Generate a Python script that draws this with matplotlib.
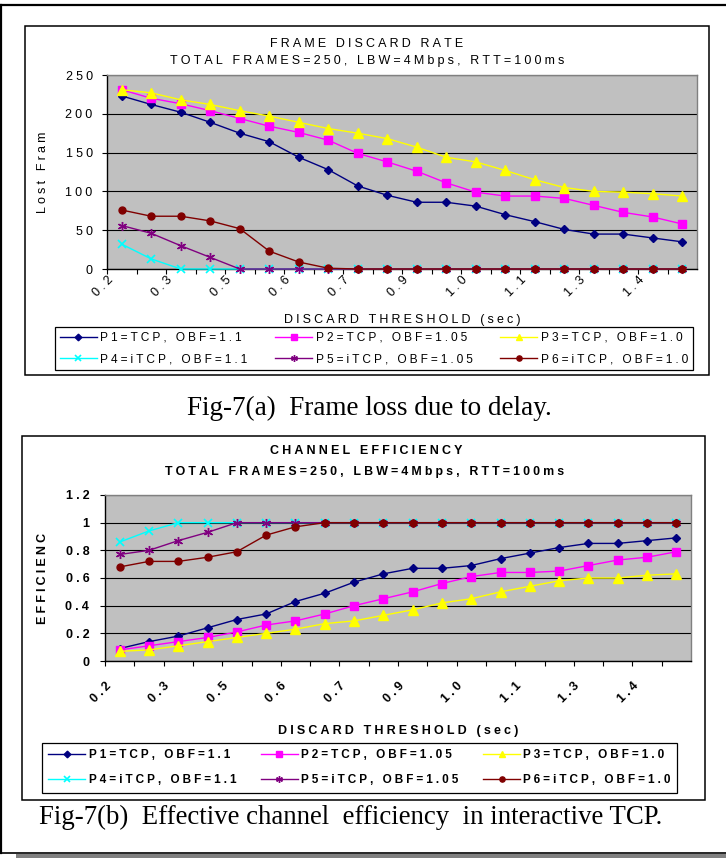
import numpy as np
import matplotlib
matplotlib.use('Agg')
import matplotlib.pyplot as plt
from matplotlib.patches import Rectangle
from matplotlib.lines import Line2D

plt.rcParams['font.family'] = ['Liberation Sans', 'DejaVu Sans']

# discard threshold labels (every other category of 20)
tick_labels = ['0.2', '0.3', '0.5', '0.6', '0.7', '0.9', '1.0', '1.1', '1.3', '1.4']
names = ['P1=TCP, OBF=1.1', 'P2=TCP, OBF=1.05', 'P3=TCP, OBF=1.0',
         'P4=iTCP, OBF=1.1', 'P5=iTCP, OBF=1.05', 'P6=iTCP, OBF=1.0']

# Fig-7(a) lost frames
lost_p1 = [223, 212, 202, 189, 175, 164, 144, 128, 107, 95, 86, 86, 81, 70, 61, 51, 45, 45, 40, 35]
lost_p2 = [231, 220, 213, 204, 194, 184, 176, 166, 149, 138, 126, 111, 99, 94, 94, 91, 82, 73, 67, 58]
lost_p3 = [231, 227, 218, 212, 204, 197, 189, 181, 175, 168, 157, 144, 138, 127, 115, 105, 100, 99, 97, 94]
lost_p4 = [32, 13, 0, 0, 0, 0, 0, 0, 0, 0, 0, 0, 0, 0, 0, 0, 0, 0, 0, 0]
lost_p5 = [56, 46, 30, 15, 0, 0, 0, 0, 0, 0, 0, 0, 0, 0, 0, 0, 0, 0, 0, 0]
lost_p6 = [76, 68, 68, 62, 52, 23, 9, 1, 0, 0, 0, 0, 0, 0, 0, 0, 0, 0, 0, 0]

# Fig-7(b) channel efficiency
eff_p1 = [0.09, 0.14, 0.18, 0.24, 0.30, 0.34, 0.43, 0.49, 0.57, 0.63, 0.67, 0.67, 0.69, 0.74, 0.78, 0.82, 0.85, 0.85, 0.87, 0.89]
eff_p2 = [0.08, 0.11, 0.14, 0.17, 0.21, 0.26, 0.29, 0.34, 0.40, 0.45, 0.50, 0.56, 0.61, 0.64, 0.64, 0.65, 0.69, 0.73, 0.75, 0.79]
eff_p3 = [0.07, 0.08, 0.11, 0.14, 0.17, 0.20, 0.23, 0.27, 0.29, 0.33, 0.37, 0.42, 0.45, 0.50, 0.54, 0.58, 0.60, 0.60, 0.62, 0.63]
eff_p4 = [0.86, 0.94, 1.0, 1.0, 1.0, 1.0, 1.0, 1.0, 1.0, 1.0, 1.0, 1.0, 1.0, 1.0, 1.0, 1.0, 1.0, 1.0, 1.0, 1.0]
eff_p5 = [0.77, 0.80, 0.87, 0.93, 1.0, 1.0, 1.0, 1.0, 1.0, 1.0, 1.0, 1.0, 1.0, 1.0, 1.0, 1.0, 1.0, 1.0, 1.0, 1.0]
eff_p6 = [0.68, 0.72, 0.72, 0.75, 0.79, 0.91, 0.97, 1.0, 1.0, 1.0, 1.0, 1.0, 1.0, 1.0, 1.0, 1.0, 1.0, 1.0, 1.0, 1.0]

lost_ticks = [0, 50, 100, 150, 200, 250]
eff_ticks = [0, 0.2, 0.4, 0.6, 0.8, 1.0, 1.2]
eff_tick_labels = ['0', '0.2', '0.4', '0.6', '0.8', '1', '1.2']

W, H = 726, 858
GAP = '\u2005'


def sp(s):
    # excel-like letter spacing
    return GAP.join(s)


def fx(x):
    return x / W


def fy(y):
    return 1 - y / H


def rect(x0, y0, x1, y1):
    return [x0 / W, 1 - y1 / H, (x1 - x0) / W, (y1 - y0) / H]


styles = [
    dict(color='#000080', marker='D', ms=4.5),
    dict(color='#FF00FF', marker='s', ms=5.5),
    dict(color='#FFFF00', marker='^', ms=6.5),
    dict(color='#00FFFF', marker='x', ms=5.5, mew=1.2),
    dict(color='#800080', marker=(6, 2, 0), ms=6.5, mew=1.0),
    dict(color='#800000', marker='o', ms=5),
]

fig = plt.figure(figsize=(W / 100, H / 100), dpi=100)

# page frame
fig.add_artist(Line2D([0, 1], [fy(5), fy(5)], color='black', lw=1.6))
fig.add_artist(Line2D([fx(1), fx(1)], [fy(5), fy(853)], color='black', lw=1.6))
fig.add_artist(Line2D([0, 1], [fy(853), fy(853)], color='black', lw=1.2))
fig.add_artist(Rectangle((fx(16), 0), 1 - fx(16), fy(854), color='#808080', lw=0))

# chart boxes
fig.add_artist(Rectangle((fx(25), fy(375)), fx(709) - fx(25), fy(26) - fy(375),
                         fill=False, ec='black', lw=1.1))
fig.add_artist(Rectangle((fx(22), fy(800)), fx(705) - fx(22), fy(436) - fy(800),
                         fill=False, ec='black', lw=1.1))


def draw(ax, series, ymax, yticks, ylabels, weight, xpad, ypad):
    n = len(series[0])
    x = np.arange(n)
    ax.set_facecolor('#C0C0C0')
    lines = []
    for vals, st in zip(series, styles):
        ln, = ax.plot(x, vals, lw=1.0, clip_on=False, zorder=3,
                      mec=st['color'], mfc=st['color'], **st)
        lines.append(ln)
    ax.set_xlim(-0.5, n - 0.5)
    ax.set_ylim(0, ymax)
    ax.set_yticks(yticks, [sp(t) for t in ylabels], fontsize=9, fontweight=weight)
    ax.set_xticks(np.arange(0, n, 2) - 0.5, [sp(t) for t in tick_labels],
                  fontsize=9, fontweight=weight, rotation=45, ha='right', va='top',
                  rotation_mode='anchor')
    ax.set_xticks(np.arange(1, n + 1, 2) - 0.5, minor=True)
    ax.tick_params(axis='x', which='both', length=3.8, width=0.8, pad=xpad)
    ax.tick_params(axis='y', length=3.8, width=0.8, pad=ypad)
    ax.yaxis.grid(True, color='black', lw=0.8)
    ax.set_axisbelow(True)
    for s in ax.spines.values():
        s.set_color('#808080')
        s.set_linewidth(1.0)
    ax.spines['left'].set_color('black')
    ax.spines['bottom'].set_color('black')
    return lines


# ---- Fig-7(a)
ax1 = fig.add_axes(rect(107, 75, 697, 269))
l1 = draw(ax1, [lost_p1, lost_p2, lost_p3, lost_p4, lost_p5, lost_p6],
          250, lost_ticks, [str(t) for t in lost_ticks], 'normal', 0.0, 6.5)
fig.text(fx(367), fy(44), sp('FRAME DISCARD RATE'), ha='center', va='center', fontsize=9)
fig.text(fx(367), fy(61), sp('TOTAL FRAMES=250, LBW=4Mbps, RTT=100ms'),
         ha='center', va='center', fontsize=9)
fig.text(fx(43), fy(172), sp('Lost Fram'), rotation=90, ha='center', va='center', fontsize=9)
fig.text(fx(402), fy(320), sp('DISCARD THRESHOLD (sec)'), ha='center', va='center', fontsize=9)

order = [0, 3, 1, 4, 2, 5]
leg1 = fig.legend([l1[i] for i in order], [sp(names[i]) for i in order], ncol=3,
                  loc='upper left', bbox_to_anchor=(fx(55), fy(327)),
                  bbox_transform=fig.transFigure, borderaxespad=0, fontsize=8.6,
                  frameon=True, fancybox=False, edgecolor='black', framealpha=1,
                  handlelength=3.1, handletextpad=0.3, columnspacing=2.3,
                  labelspacing=0.8, borderpad=0.4, markerscale=0.75)
leg1.get_frame().set_linewidth(0.9)

fig.text(fx(369), fy(415), 'Fig-7(a)  Frame loss due to delay.', ha='center', va='baseline',
         fontsize=19.5, family='Liberation Serif')

# ---- Fig-7(b)
ax2 = fig.add_axes(rect(105, 495, 691, 661))
l2 = draw(ax2, [eff_p1, eff_p2, eff_p3, eff_p4, eff_p5, eff_p6],
          1.2, eff_ticks, eff_tick_labels, 'bold', 10.0, 7.5)
fig.text(fx(366), fy(451), sp('CHANNEL EFFICIENCY'), ha='center', va='center',
         fontsize=9, fontweight='bold')
fig.text(fx(365), fy(472), sp('TOTAL FRAMES=250, LBW=4Mbps, RTT=100ms'),
         ha='center', va='center', fontsize=8.9, fontweight='bold')
fig.text(fx(43), fy(578), sp('EFFICIENC'), rotation=90, ha='center', va='center',
         fontsize=9, fontweight='bold')
fig.text(fx(398), fy(731), sp('DISCARD THRESHOLD (sec)'), ha='center', va='center',
         fontsize=9, fontweight='bold')

leg2 = fig.legend([l2[i] for i in order], [sp(names[i]) for i in order], ncol=3,
                  loc='upper left', bbox_to_anchor=(fx(42), fy(743)),
                  bbox_transform=fig.transFigure, borderaxespad=0,
                  prop=dict(size=8.5, weight='bold'),
                  frameon=True, fancybox=False, edgecolor='black', framealpha=1,
                  handlelength=3.1, handletextpad=0.3, columnspacing=2.1,
                  labelspacing=1.1, borderpad=0.55, markerscale=0.75)
leg2.get_frame().set_linewidth(0.9)

fig.text(fx(39), fy(824), 'Fig-7(b)  Effective channel  efficiency  in interactive TCP.',
         ha='left', va='baseline', fontsize=19.3, family='Liberation Serif')

fig.savefig('out.png', dpi=100)
